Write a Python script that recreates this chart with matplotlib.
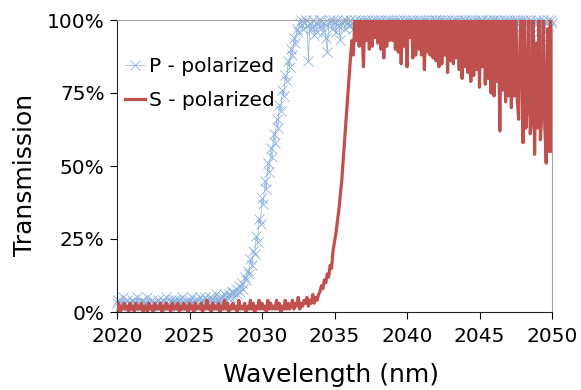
import numpy as np
import matplotlib
matplotlib.use("Agg")
import matplotlib.pyplot as plt
from matplotlib.ticker import PercentFormatter

# wavelength grid (nm), 0.1 nm sampling
wavelength = np.linspace(2020, 2050, 301)

# transmission in percent, one row per nm (x.0 ... x.9)
p_polarized = [
    3, 4, 2, 3, 5, 3, 2, 4, 3, 3,
    4, 2, 3, 3, 5, 2, 3, 4, 2, 3,
    3, 5, 3, 2, 4, 3, 3, 2, 4, 3,
    2, 3, 4, 3, 5, 3, 2, 4, 3, 4,
    3, 4, 2, 4, 3, 5, 3, 3, 4, 2,
    4, 3, 5, 3, 4, 2, 4, 5, 3, 4,
    3, 5, 4, 3, 5, 4, 3, 4, 6, 4,
    4, 5, 3, 5, 6, 4, 5, 6, 5, 7,
    7, 5, 8, 6, 9, 7, 10, 8, 12, 11,
    14, 13, 18, 16, 21, 20, 26, 24, 32, 30,
    39, 37, 45, 42, 51, 48, 56, 53, 61, 58,
    66, 63, 71, 69, 76, 74, 81, 79, 86, 84,
    90, 88, 94, 92, 97, 96, 99, 100, 97, 99,
    100, 98, 86, 99, 97, 100, 95, 99, 96, 100,
    98, 100, 96, 99, 94, 89, 99, 100, 97, 100,
    99, 96, 100, 98, 93, 99, 100, 97, 100, 99,
    98, 100, 99, 97, 100, 99, 98, 100, 99, 100,
    99, 100, 98, 100, 99, 97, 100, 99, 100, 98,
    100, 99, 100, 98, 99, 100, 99, 100, 97, 100,
    99, 100, 98, 100, 99, 100, 99, 98, 100, 99,
    100, 98, 100, 99, 100, 99, 97, 100, 99, 100,
    99, 100, 98, 100, 99, 100, 99, 100, 98, 100,
    100, 99, 100, 98, 100, 99, 100, 99, 100, 98,
    99, 100, 99, 100, 98, 100, 99, 100, 99, 100,
    100, 99, 98, 100, 99, 100, 99, 100, 98, 100,
    99, 100, 100, 99, 98, 100, 99, 100, 99, 100,
    100, 98, 100, 99, 100, 99, 98, 100, 99, 100,
    99, 100, 99, 98, 100, 99, 100, 99, 100, 98,
    100, 99, 100, 99, 97, 100, 90, 94, 99, 100,
    99, 100, 98, 92, 100, 96, 99, 100, 98, 100,
    99,
]

s_polarized = [
    1, 3, 0, 2, 1, 3, 1, 2, 0, 3,
    1, 2, 0, 3, 1, 2, 1, 3, 0, 2,
    2, 0, 3, 1, 2, 0, 3, 1, 2, 1,
    3, 0, 2, 1, 3, 1, 2, 0, 3, 1,
    2, 1, 3, 0, 2, 1, 3, 1, 2, 0,
    3, 1, 2, 0, 3, 1, 2, 1, 3, 0,
    2, 1, 4, 1, 2, 0, 3, 1, 2, 1,
    3, 0, 2, 1, 4, 1, 3, 0, 2, 1,
    3, 1, 2, 0, 4, 1, 2, 1, 3, 0,
    2, 1, 4, 1, 3, 0, 2, 1, 4, 1,
    3, 1, 2, 0, 4, 1, 3, 1, 2, 1,
    4, 1, 3, 0, 2, 1, 4, 1, 3, 1,
    2, 4, 1, 3, 2, 5, 1, 3, 2, 4,
    3, 5, 2, 4, 3, 6, 3, 5, 4, 6,
    7, 9, 8, 11, 10, 13, 12, 16, 15, 21,
    24, 27, 31, 35, 40, 45, 52, 59, 66, 73,
    80, 87, 93, 88, 100, 93, 106, 91, 105, 96,
    84, 104, 93, 107, 90, 105, 91, 108, 94, 104,
    92, 106, 90, 105, 87, 108, 91, 104, 93, 106,
    93, 105, 90, 107, 89, 104, 85, 106, 91, 105,
    84, 106, 94, 105, 87, 104, 88, 107, 90, 105,
    88, 104, 83, 106, 89, 104, 88, 107, 87, 105,
    86, 104, 84, 106, 85, 105, 88, 107, 82, 104,
    86, 105, 85, 104, 87, 106, 83, 105, 80, 104,
    84, 106, 82, 105, 79, 104, 81, 106, 83, 104,
    77, 105, 84, 106, 78, 104, 80, 106, 75, 104,
    74, 105, 79, 104, 62, 106, 76, 104, 72, 105,
    74, 106, 70, 104, 74, 106, 73, 66, 95, 104,
    58, 105, 63, 71, 104, 61, 66, 104, 54, 92,
    63, 104, 59, 68, 105, 64, 51, 97, 55, 104,
    55,
]

x_ticks = [2020, 2025, 2030, 2035, 2040, 2045, 2050]
y_ticks = [0, 0.25, 0.5, 0.75, 1.0]

p = np.array(p_polarized) / 100
s = np.array(s_polarized) / 100

fig = plt.figure(figsize=(5.81, 3.90), dpi=100)
ax = fig.add_axes([117 / 581, 78 / 390, 435 / 581, 292 / 390])

ax.plot(wavelength, p, color="#8aafdc", lw=0.5, marker="x", ms=7, mew=0.6,
        label="P - polarized", clip_on=False, zorder=2)
ax.plot(wavelength, s, color="#c0504d", lw=2.3, label="S - polarized", zorder=3)

ax.set_xlim(2020, 2050)
ax.set_ylim(0, 1)
ax.set_xticks(x_ticks)
ax.set_yticks(y_ticks)
ax.yaxis.set_major_formatter(PercentFormatter(1.0, decimals=0))
ax.tick_params(direction="out", length=5, width=0.8, labelsize=14.5)
ax.tick_params(axis="x", pad=6)
ax.tick_params(axis="y", pad=4)

for side in ["left", "bottom"]:
    ax.spines[side].set_color("#222222")
    ax.spines[side].set_linewidth(0.8)
for side in ["top", "right"]:
    ax.spines[side].set_color("#a6a6a6")
    ax.spines[side].set_linewidth(0.8)

ax.set_xlabel("Wavelength (nm)", fontsize=18)
ax.set_ylabel("Transmission", fontsize=18)
ax.xaxis.set_label_coords(0.492, -0.175)
ax.yaxis.set_label_coords(-0.185, 0.47)

ax.legend(loc="upper left", bbox_to_anchor=(0.0, 0.90), frameon=False,
          fontsize=14.5, handlelength=1.0, handletextpad=0.2, labelspacing=0.75,
          borderaxespad=0)

fig.savefig("out.png", dpi=100)
